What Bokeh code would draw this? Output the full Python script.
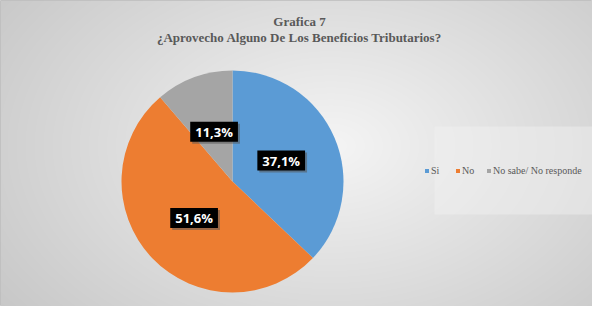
import numpy as np
from bokeh.plotting import figure
from bokeh.models import ColumnDataSource, Legend, LegendItem, Range1d, Label
from bokeh.core.properties import value
from bokeh.embed import file_html
from bokeh.resources import INLINE

# ---- data ----
categories = ["Si", "No", "No sabe/ No responde"]
percent = [37.1, 51.6, 11.3]
labels = ["37,1%", "51,6%", "11,3%"]
colors = ["#5B9BD5", "#ED7D31", "#A5A5A5"]
title_lines = ["Grafica 7", "¿Aprovecho Alguno De Los Beneficios Tributarios?"]

# ---- layout ----
W, H = 592, 306
CX, CY, R = 232, 125, 111
LABEL_R = 53

p = figure(width=W, height=H, output_backend="svg", toolbar_location=None,
           x_range=Range1d(0, W), y_range=Range1d(0, H),
           x_axis_location=None, y_axis_location=None, min_border=0)
p.grid.visible = False
p.outline_line_color = "#bdbdbd"
p.border_fill_color = "white"

# radial gradient background (styling only)
yy, xx = np.mgrid[0:H, 0:W]
d = np.sqrt(((xx - 330) / 300.0) ** 2 + ((yy - 160) / 200.0) ** 2)
v = np.clip(0.96 - 0.13 * d, 0, 1)
g = (v * 255).astype(np.uint32)
img = (255 << 24) | (g << 16) | (g << 8) | g
p.image_rgba(image=[img], x=0, y=0, dw=W, dh=H)

# legend backdrop
p.quad(left=[434], right=[W], bottom=[92], top=[180], fill_color="#f2f2f2",
       fill_alpha=0.45, line_color=None)

# ---- pie ----
total = float(sum(percent))
fr = np.array(percent) / total
cum = np.concatenate([[0], np.cumsum(fr)])
starts = np.pi / 2 - 2 * np.pi * cum[:-1]
ends = np.pi / 2 - 2 * np.pi * cum[1:]
mids = (starts + ends) / 2

src = ColumnDataSource(dict(cat=categories, start=starts, end=ends, color=colors,
                            lx=CX + LABEL_R * np.cos(mids),
                            ly=CY + LABEL_R * np.sin(mids),
                            label=labels))
wr = p.wedge(x=CX, y=CY, radius=R, start_angle="start", end_angle="end",
             direction="clock", fill_color="color", line_color=None, source=src)

# label shadow
p.text(x="lx", y="ly", text="label", source=src, x_offset=2, y_offset=2,
       text_align="center", text_baseline="middle",
       text_font=value("Open Sans"), text_font_style="bold", text_font_size="13px",
       text_alpha=0.0, background_fill_color="#555555", background_fill_alpha=0.55,
       padding=(5, 1))
p.text(x="lx", y="ly", text="label", source=src,
       text_align="center", text_baseline="middle",
       text_font=value("Open Sans"), text_font_style="bold", text_font_size="13px",
       text_color="white", background_fill_color="black",
       padding=(5, 1))

# ---- title ----
for i, (txt, ty) in enumerate(zip(title_lines, [285, 269])):
    p.add_layout(Label(x=299, y=ty, text=txt, text_align="center",
                       text_baseline="middle", text_font="Liberation Serif",
                       text_font_style="bold", text_font_size="13px",
                       text_color="#595959"))

# ---- legend ----
items = [LegendItem(label=categories[i], renderers=[wr], index=i) for i in range(3)]
legend = Legend(items=items, orientation="horizontal", location=(424, 130),
                glyph_width=5, glyph_height=5, label_standoff=2, spacing=4,
                padding=0, margin=0, label_height=12,
                label_text_font="Times New Roman", label_text_font_size="10px",
                label_text_color="#595959", background_fill_alpha=0,
                border_line_color=None)
p.add_layout(legend, "center")

open("out.html", "w").write(file_html(p, INLINE))
